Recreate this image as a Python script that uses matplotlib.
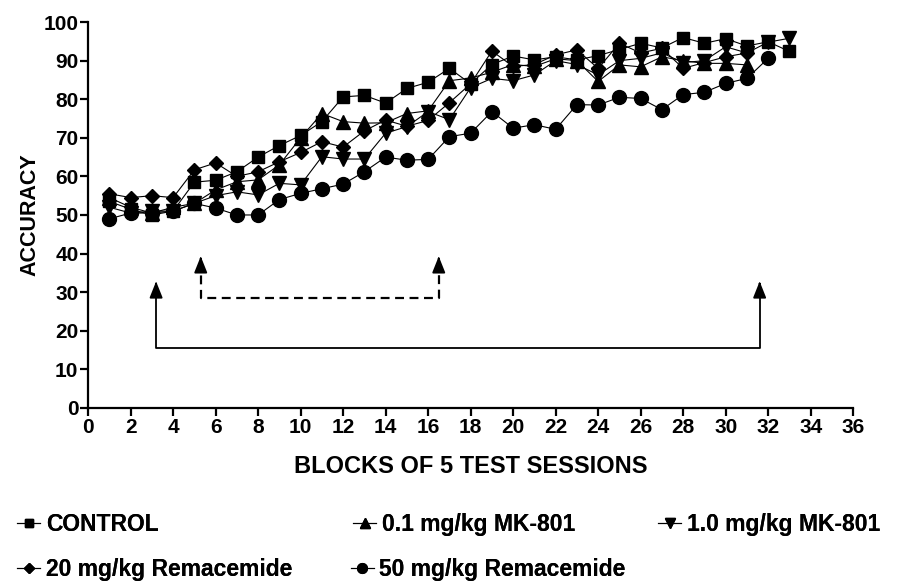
import matplotlib
matplotlib.use("Agg")
import matplotlib.pyplot as plt
from matplotlib.ticker import MultipleLocator

plt.rcParams["font.family"] = ["Liberation Sans", "DejaVu Sans"]
plt.rcParams["font.weight"] = "bold"

blocks = list(range(1, 34))

control = [53.5, 51.5, 50.0, 51.0, 58.5, 59.0, 61.2, 65.0, 68.0, 70.6, 74.2, 80.6, 81.0, 79.0,
           82.8, 84.4, 88.0, 84.0, 89.0, 91.2, 90.2, 91.0, 90.2, 91.3, 92.9, 94.5, 93.3, 96.0,
           94.5, 95.7, 93.8, 94.9, 92.4]
mk01 = [54.5, 52.0, 50.5, 52.0, 53.0, 56.5, 58.6, 59.1, 63.0, 70.0, 76.3, 74.2, 73.8, 73.9,
        76.3, 77.0, 84.8, 85.5, 87.0, 89.0, 88.5, 90.5, 90.0, 84.6, 88.9, 88.4, 91.0, 90.0,
        89.3, 89.3, 88.9]
mk10 = [52.0, 50.5, 51.0, 51.0, 53.0, 55.0, 56.0, 55.2, 58.2, 57.8, 65.1, 64.5, 64.5, 71.2,
        72.9, 76.8, 74.7, 83.0, 85.4, 84.8, 86.3, 90.0, 89.0, 86.3, 90.0, 90.6, 92.0, 89.5,
        90.0, 93.6, 92.0, 94.8, 95.8]
rem20 = [55.5, 54.5, 55.0, 54.5, 61.7, 63.5, 60.0, 61.2, 63.8, 66.2, 69.0, 67.6, 71.8, 74.6,
         73.0, 74.5, 79.1, 84.0, 92.5, 88.5, 89.0, 91.5, 92.8, 88.0, 94.5, 92.0, 93.2, 88.0,
         89.5, 91.0, 92.0]
rem50 = [49.0, 50.5, 50.5, 51.0, 53.0, 51.8, 50.0, 50.0, 54.0, 55.6, 56.8, 58.0, 61.2, 65.0,
         64.2, 64.4, 70.3, 71.2, 76.8, 72.5, 73.4, 72.2, 78.6, 78.5, 80.5, 80.2, 77.3, 81.2,
         81.8, 84.1, 85.4, 90.6]

labels = ["CONTROL", "0.1 mg/kg MK-801", "1.0 mg/kg MK-801",
          "20 mg/kg Remacemide", "50 mg/kg Remacemide"]

# bracket annotations (x positions in blocks, y in accuracy units)
solid_x = [3.2, 31.6]
solid_base, solid_tip = 15.5, 33.5
dash_x = [5.3, 16.5]
dash_base, dash_tip = 28.5, 40.0

fig = plt.figure(figsize=(8.99, 5.81), dpi=100)
ax = fig.add_axes([0.098, 0.298, 0.851, 0.664])

series = [(control, "s", 9), (mk01, "^", 10), (mk10, "v", 10), (rem20, "D", 7.5), (rem50, "o", 10)]
lines = []
for (vals, mk, ms), lab in zip(series, labels):
    ln, = ax.plot(blocks[:len(vals)], vals, color="black", linewidth=0.8,
                  marker=mk, markersize=ms, label=lab)
    lines.append(ln)

arrow = dict(arrowstyle="-|>,head_width=0.4,head_length=1.0", color="black", lw=1.3)

# solid bracket
ax.plot([solid_x[0], solid_x[0], solid_x[1], solid_x[1]],
        [solid_tip - 2, solid_base, solid_base, solid_tip - 2], color="black", linewidth=1.3)
for x in solid_x:
    ax.annotate("", xy=(x, solid_tip), xytext=(x, solid_tip - 2.5), arrowprops=arrow)
# dashed bracket
ax.plot([dash_x[0], dash_x[0], dash_x[1], dash_x[1]],
        [dash_tip - 2, dash_base, dash_base, dash_tip - 2], color="black",
        linewidth=1.6, linestyle=(0, (4, 2.5)))
for x in dash_x:
    ax.annotate("", xy=(x, dash_tip), xytext=(x, dash_tip - 2.5), arrowprops=arrow)

ax.set_xlim(0, 36)
ax.set_ylim(0, 100)
ax.xaxis.set_major_locator(MultipleLocator(2))
ax.yaxis.set_major_locator(MultipleLocator(10))
ax.spines["top"].set_visible(False)
ax.spines["right"].set_visible(False)
ax.spines["left"].set_linewidth(1.6)
ax.spines["bottom"].set_linewidth(1.6)
ax.tick_params(direction="out", length=6, width=1.6, labelsize=15, pad=1)
ax.set_xlabel("BLOCKS OF 5 TEST SESSIONS", fontsize=17, fontweight="bold", labelpad=13)
ax.set_ylabel("ACCURACY", fontsize=15.5, fontweight="bold", labelpad=2)

# legend entries placed like the original (irregular layout)
legend_pos = [(0.019, 0.097), (0.393, 0.097), (0.732, 0.097), (0.019, 0.02), (0.39, 0.02)]
for ln, (lx, ly) in zip(lines, legend_pos):
    leg = fig.legend(handles=[ln], loc="center left", bbox_to_anchor=(lx, ly),
                     frameon=False, fontsize=16.5, handlelength=1.0, handletextpad=0.25,
                     borderpad=0, borderaxespad=0, markerscale=0.7)
    fig.add_artist(leg)

fig.savefig("out.png", dpi=100)
